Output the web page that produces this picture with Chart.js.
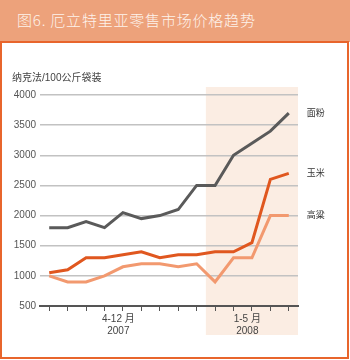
<!DOCTYPE html>
<html>
<head>
<meta charset="utf-8">
<script src="https://cdn.jsdelivr.net/npm/chart.js@4"></script>
<style>
  html, body { margin: 0; padding: 0; background: #fff; }
  #wrap { position: relative; width: 350px; height: 360px; overflow: hidden; }
  #bar { position: absolute; left: 0; top: 0; width: 350px; height: 42px; background: #eda27b; }
  #bar span { position: absolute; left: 17px; top: 9px; color: #fdf3ec; font: 300 15px "Noto Sans CJK SC", sans-serif; letter-spacing: 0.8px; }
  #box { position: absolute; left: 0; top: 41px; width: 349px; height: 318px; box-sizing: border-box; border: 2px solid #e8652c; background: #fff; }
  canvas { position: absolute; left: 0; top: 0; }
</style>
</head>
<body>
<div id="wrap">
  <div id="bar"><span>图6. 厄立特里亚零售市场价格趋势</span></div>
  <div id="box"></div>
  <canvas id="c" width="350" height="360"></canvas>
</div>
<script>
// months: Apr-Dec 2007, Jan-May 2008
const months = ['4', '5', '6', '7', '8', '9', '10', '11', '12', '1', '2', '3', '4', '5'];
const wheatFlour = [1800, 1800, 1900, 1800, 2050, 1950, 2000, 2100, 2500, 2500, 3000, 3200, 3400, 3700];
const maize = [1050, 1100, 1300, 1300, 1350, 1400, 1300, 1350, 1350, 1400, 1400, 1550, 2600, 2700];
const sorghum = [1000, 900, 900, 1000, 1150, 1200, 1200, 1150, 1200, 900, 1300, 1300, 2000, 2000];
const seriesNames = ['面粉', '玉米', '高粱'];
const periodLabels = [['4-12 月', '2007'], ['1-5 月', '2008']];
const periodCenters = [3.75, 10.75];
const yTicks = [500, 1000, 1500, 2000, 2500, 3000, 3500, 4000];
const unitLabel = '纳克法/100公斤袋装';

const FONT = '"Liberation Sans", "Noto Sans CJK SC", sans-serif';

const decor = {
  id: 'decor',
  beforeDraw(chart) {
    const { ctx, chartArea } = chart;
    const x = chart.scales.x;
    const left = (x.getPixelForValue(8) + x.getPixelForValue(9)) / 2;
    ctx.save();
    ctx.fillStyle = '#fbede3';
    ctx.fillRect(left, chartArea.top - 8, chartArea.right - left, 335 - (chartArea.top - 8));
    ctx.restore();
  },
  afterDraw(chart) {
    const { ctx, chartArea } = chart;
    const x = chart.scales.x;
    ctx.save();
    ctx.fillStyle = '#444';
    ctx.font = '10px ' + FONT;
    ctx.textAlign = 'left';
    ctx.textBaseline = 'middle';
    ctx.fillText(unitLabel, 12, chartArea.top - 17);

    ctx.textAlign = 'center';
    periodLabels.forEach((lines, i) => {
      const px = x.getPixelForValue(periodCenters[i]);
      lines.forEach((t, j) => ctx.fillText(t, px, chartArea.bottom + 13 + j * 12));
    });

    ctx.font = '9px ' + FONT;
    ctx.fillStyle = '#333';
    chart.data.datasets.forEach((ds, i) => {
      const pts = chart.getDatasetMeta(i).data;
      const p = pts[pts.length - 1];
      ctx.fillText(seriesNames[i], p.x + 27, p.y);
    });
    ctx.restore();
  }
};

new Chart(document.getElementById('c'), {
  type: 'line',
  data: {
    labels: months,
    datasets: [
      { data: wheatFlour, borderColor: '#5a5a5a' },
      { data: maize, borderColor: '#e0571f' },
      { data: sorghum, borderColor: '#f2996f' }
    ]
  },
  options: {
    responsive: false,
    animation: false,
    layout: { padding: { left: 0, top: 95, right: 52, bottom: 0 } },
    elements: {
      line: { borderWidth: 3, tension: 0, borderCapStyle: 'butt', borderJoinStyle: 'miter' },
      point: { radius: 0 }
    },
    plugins: { legend: { display: false }, tooltip: { enabled: false } },
    scales: {
      x: {
        offset: true,
        afterFit(s) { s.height = 54; },
        grid: { offset: false, drawOnChartArea: false, drawTicks: true, tickLength: 5, color: '#555', lineWidth: 1 },
        border: { display: true, color: '#555', width: 2 },
        ticks: { autoSkip: false, maxRotation: 0, callback: () => '', font: { size: 10 } }
      },
      y: {
        min: 500,
        max: 4000,
        afterFit(s) { s.width = 40; },
        afterBuildTicks(s) { s.ticks = yTicks.map(v => ({ value: v })); },
        grid: { color: '#c2c2c2', lineWidth: 1.5, drawTicks: false },
        border: { display: false },
        ticks: { padding: 4, color: '#555', font: { size: 10, family: FONT }, callback: v => String(v) }
      }
    }
  },
  plugins: [decor]
});
</script>
</body>
</html>
